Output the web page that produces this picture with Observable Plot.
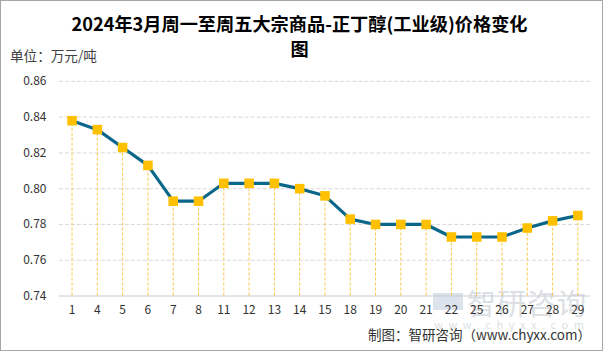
<!DOCTYPE html>
<html><head><meta charset="utf-8">
<script src="https://cdn.jsdelivr.net/npm/d3@7"></script>
<script src="https://cdn.jsdelivr.net/npm/@observablehq/plot@0.6"></script>
<style>
html,body{margin:0;padding:0;background:#fff;}
#wrap{position:relative;width:603px;height:351px;box-sizing:border-box;border:1px solid #a6a6a6;overflow:hidden;font-family:"Noto Sans CJK SC","Microsoft YaHei",sans-serif;}
#plot{position:absolute;left:-1px;top:-1px;}
.title{position:absolute;left:-3px;width:603px;text-align:center;font-weight:bold;font-size:18.2px;color:#000;line-height:24px;}
.unit{position:absolute;left:9px;top:44px;font-size:13.6px;color:#404040;}
.wm1{position:absolute;left:466px;top:280px;font-size:29px;color:#dcdfe4;letter-spacing:1px;}
.wm2{position:absolute;left:433px;top:315px;font-size:11px;color:#dcdfe4;letter-spacing:5.6px;}
.logo{position:absolute;left:432px;top:292px;width:30px;height:17px;background:#dde3ec;}
.caption{position:absolute;right:11px;top:323px;font-size:13.5px;color:#333;}
</style></head>
<body>
<div id="wrap">
<div class="logo"></div>
<div class="wm1">智研咨询</div>
<div class="wm2">www.chyxx.com</div>
<div id="plot"></div>
<div class="title" style="top:10px">2024年3月周一至周五大宗商品-正丁醇(工业级)价格变化</div>
<div class="title" style="top:35px">图</div>
<div class="unit">单位：万元/吨</div>
<div class="caption">制图：智研咨询（www.chyxx.com）</div>
</div>
<script>
const days = ["1","4","5","6","7","8","11","12","13","14","15","18","19","20","21","22","25","26","27","28","29"];
const prices = [0.838,0.833,0.823,0.813,0.793,0.793,0.803,0.803,0.803,0.800,0.796,0.783,0.780,0.780,0.780,0.773,0.773,0.773,0.778,0.782,0.785];
const yTicks = [0.74,0.76,0.78,0.80,0.82,0.84,0.86];
const data = days.map((d,i)=>({day:d, price:prices[i]}));

const chart = Plot.plot({
  width:603, height:351,
  marginLeft:59, marginRight:12, marginTop:81, marginBottom:55,
  style:{fontFamily:"'Noto Sans CJK SC','Microsoft YaHei',sans-serif", fontSize:"12px", color:"#333", background:"transparent"},
  x:{type:"point", domain:days, padding:0.5, round:false, label:null},
  y:{domain:[0.74,0.86], ticks:yTicks, label:null},
  marks:[
    Plot.gridY(yTicks.filter(t=>t>0.74), {stroke:"#d9d9d9", strokeOpacity:1, strokeDasharray:"4,2"}),
    Plot.ruleY([0.74], {stroke:"#c5ccd4", strokeWidth:1}),
    Plot.ruleX(data, {x:"day", y1:0.74, y2:"price", stroke:"#fbc84a", strokeWidth:1, strokeDasharray:"3,2"}),
    Plot.line(data, {x:"day", y:"price", stroke:"#0a6789", strokeWidth:3.2, strokeLinejoin:"round"}),
    Plot.dot(data, {x:"day", y:"price", symbol:"square", r:5.4, fill:"#ffc000", stroke:"none"}),
    Plot.axisY({ticks:yTicks, tickSize:0, tickPadding:13, tickFormat:d3.format(".2f"), fontSize:12, fill:"#333"}),
    Plot.axisX({tickSize:0, tickPadding:10, fontSize:12, fill:"#333"})
  ]
});
document.getElementById("plot").appendChild(chart);
</script>
</body></html>
